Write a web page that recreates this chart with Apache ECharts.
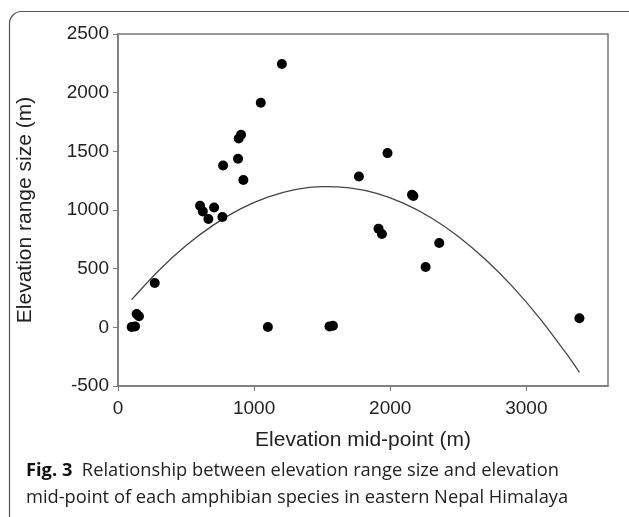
<!DOCTYPE html>
<html>
<head>
<meta charset="utf-8">
<script src="https://cdn.jsdelivr.net/npm/echarts@6/dist/echarts.min.js"></script>
<style>
html,body{margin:0;padding:0;background:#fff;}
#chart{width:629px;height:517px;}
</style>
</head>
<body>
<div id="chart"></div>
<script>
// Observed species: elevation mid-point (m) and elevation range size (m)
const midPoint = [100, 125, 137, 154, 270, 603, 623, 664, 706, 767, 772, 882, 887, 904, 921, 1049, 1101, 1204, 1554, 1579, 1770, 1914, 1939, 1980, 2160, 2170, 2260, 2360, 3390];
const rangeSize = [3, 8, 114, 94, 378, 1036, 988, 923, 1022, 940, 1380, 1437, 1610, 1641, 1255, 1914, 3, 2244, 8, 14, 1286, 841, 795, 1485, 1130, 1120, 514, 719, 77];

// Quadratic regression curve
const curveX = [100, 300, 500, 700, 900, 1100, 1300, 1500, 1700, 1900, 2100, 2300, 2500, 2700, 2900, 3100, 3300, 3390];
const curveY = [236, 485, 697, 871, 1009, 1109, 1173, 1199, 1188, 1141, 1056, 934, 775, 578, 345, 75, -233, -383];

const xTicks = [0, 1000, 2000, 3000];
const yTicks = [-500, 0, 500, 1000, 1500, 2000, 2500];

const xTitle = 'Elevation mid-point (m)';
const yTitle = 'Elevation range size (m)';
const captionBold = 'Fig. 3';
const captionLine1 = 'Relationship between elevation range size and elevation';
const captionLine2 = 'mid-point of each amphibian species in eastern Nepal Himalaya';

const scatterData = midPoint.map((x, i) => [x, rangeSize[i]]);
const curveData = curveX.map((x, i) => [x, curveY[i]]);

const chart = echarts.init(document.getElementById('chart'), null, {renderer: 'canvas'});
const axisGray = '#7a7a7a';
const textFont = 'Liberation Sans, Arial, sans-serif';

chart.setOption({
  animation: false,
  backgroundColor: '#fff',
  grid: {left: 118, top: 34, right: 21, bottom: 131, show: true, borderColor: axisGray, borderWidth: 1.5, backgroundColor: 'transparent'},
  xAxis: {
    type: 'value', min: xTicks[0], max: 3600, interval: 1000,
    name: xTitle, nameLocation: 'middle', nameGap: 44,
    nameTextStyle: {fontFamily: textFont, fontSize: 21, color: '#222'},
    axisLine: {show: true, onZero: false, lineStyle: {color: axisGray, width: 1.5}},
    axisTick: {show: true, inside: false, length: 5, lineStyle: {color: axisGray}},
    axisLabel: {
      fontFamily: textFont, fontSize: 19, color: '#222', margin: 13,
      showMaxLabel: false,
      formatter: v => xTicks.indexOf(v) >= 0 ? String(v) : ''
    },
    splitLine: {show: false}
  },
  yAxis: {
    type: 'value', min: yTicks[0], max: yTicks[yTicks.length - 1], interval: 500,
    name: yTitle, nameLocation: 'middle', nameGap: 82,
    nameTextStyle: {fontFamily: textFont, fontSize: 21, color: '#222'},
    axisLine: {show: true, onZero: false, lineStyle: {color: axisGray, width: 1.5}},
    axisTick: {show: true, inside: false, length: 5, lineStyle: {color: axisGray}},
    axisLabel: {fontFamily: textFont, fontSize: 19, color: '#222', margin: 9, formatter: v => String(v)},
    splitLine: {show: false}
  },
  series: [
    {
      type: 'line', data: curveData, smooth: 0.3, showSymbol: false, symbol: 'none',
      lineStyle: {color: '#444', width: 1.3}, z: 2
    },
    {
      type: 'scatter', data: scatterData, symbol: 'circle', symbolSize: 10,
      itemStyle: {color: '#000', opacity: 1}, z: 3
    }
  ],
  graphic: [
    {
      type: 'rect', shape: {x: 9.5, y: 11.5, width: 660, height: 560, r: 12},
      style: {fill: 'none', stroke: '#555', lineWidth: 1.2}, silent: true, z: -1
    },
    {
      type: 'text', left: 26, top: 457,
      style: {
        text: '{b|' + captionBold + '}  ' + captionLine1 + '\n' + captionLine2,
        font: '18.3px "Open Sans", sans-serif', fill: '#222', lineHeight: 27,
        rich: {b: {fontFamily: 'Open Sans', fontWeight: 'bold', fontSize: 18.3, fill: '#111'}}
      }
    }
  ]
});
</script>
</body>
</html>
